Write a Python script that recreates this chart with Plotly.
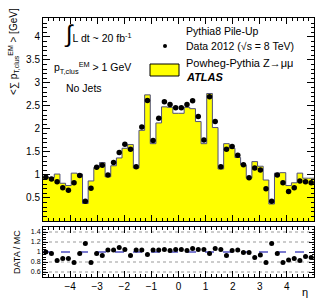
import numpy as np
import plotly.graph_objects as go

# ---- data (48 uniform bins in eta over [-5, 5]) ----
eta_min, eta_max, n_bins = -5.0, 5.0, 48
mc_values = [0.95, 0.94, 1.02, 0.82, 0.77, 1.04, 1.02, 0.38, 0.87, 1.16, 1.27, 0.96,
             1.20, 1.37, 1.58, 1.66, 1.15, 1.97, 2.74, 1.68, 2.13, 2.48, 2.47, 2.34,
             2.34, 2.47, 2.44, 2.16, 1.68, 2.77, 2.03, 1.13, 1.68, 1.58, 1.38, 1.22,
             0.93, 1.29, 1.19, 0.89, 0.37, 1.04, 1.05, 0.77, 0.83, 1.04, 0.93, 0.93]
data_values = [0.95, 0.91, 0.85, 0.72, 0.67, 0.83, 0.99, 0.43, 0.71, 1.17, 1.21, 1.00,
               1.27, 1.49, 1.67, 1.56, 1.18, 2.04, 2.62, 1.75, 2.23, 2.59, 2.53, 2.46,
               2.46, 2.53, 2.61, 2.27, 1.76, 2.70, 2.16, 1.18, 1.56, 1.62, 1.43, 1.22,
               0.94, 1.15, 1.11, 0.70, 0.43, 1.00, 0.83, 0.64, 0.72, 0.87, 0.85, 0.83]
ratio_values = [1.00, 0.97, 0.83, 0.87, 0.87, 0.79, 0.97, 1.17, 0.79, 0.97, 0.93, 1.04,
                1.04, 1.09, 1.05, 0.93, 1.04, 1.04, 0.95, 1.04, 1.04, 1.05, 1.03, 1.05,
                1.05, 1.03, 1.07, 1.05, 1.05, 0.97, 1.07, 1.05, 0.93, 1.03, 1.04, 0.99,
                0.99, 0.89, 0.94, 0.79, 1.17, 0.97, 0.79, 0.84, 0.87, 0.83, 0.91, 0.89]
ratio_ticks = [0.6, 0.8, 1.0, 1.2, 1.4]
main_ticks = [0.5, 1, 1.5, 2, 2.5, 3, 3.5, 4]
eta_ticks = [-4, -3, -2, -1, 0, 1, 2, 3, 4]

edges = np.linspace(eta_min, eta_max, n_bins + 1)
centers = 0.5 * (edges[:-1] + edges[1:])

FONT = "Liberation Sans, Arial, sans-serif"

fig = go.Figure()

# MC histogram (yellow, step outline)
fig.add_trace(go.Scatter(
    x=list(edges), y=list(mc_values) + [mc_values[-1]],
    mode="lines", line=dict(shape="hv", color="#505078", width=1),
    fill="tozeroy", fillcolor="#ffff00", xaxis="x", yaxis="y",
    hoverinfo="skip", showlegend=False))

# Data points
fig.add_trace(go.Scatter(
    x=centers, y=data_values, mode="markers",
    marker=dict(color="black", size=5.5, symbol="circle"),
    xaxis="x", yaxis="y", showlegend=False))

# Ratio points
fig.add_trace(go.Scatter(
    x=centers, y=ratio_values, mode="markers",
    marker=dict(color="black", size=5, symbol="circle"),
    xaxis="x2", yaxis="y2", showlegend=False))

shapes = []
for t in ratio_ticks:
    if t == 1.0:
        shapes.append(dict(type="line", xref="x2 domain", yref="y2", x0=0, x1=1, y0=t, y1=t,
                           line=dict(color="#5050c0", width=1.5, dash="dash"), layer="below"))
    else:
        shapes.append(dict(type="line", xref="x2 domain", yref="y2", x0=0, x1=1, y0=t, y1=t,
                           line=dict(color="#999999", width=1, dash="dot"), layer="below"))

def px(xp):
    return (xp - 43) / 271

def py(yp):
    return 1 - (yp - 18) / 259

# legend symbols (paper coords)
shapes.append(dict(type="rect", xref="paper", yref="paper",
                   x0=px(150), x1=px(179), y0=py(76), y1=py(64),
                   fillcolor="#ffff00", line=dict(color="black", width=1)))
shapes.append(dict(type="circle", xref="paper", yref="paper",
                   x0=px(163), x1=px(167), y0=py(48), y1=py(44),
                   fillcolor="black", line=dict(color="black", width=0)))

ann = []
def txt(s, x, y, size=10.5, xanchor="left", yanchor="middle", angle=0):
    ann.append(dict(text=s, xref="paper", yref="paper", x=px(x), y=py(y),
                    xanchor=xanchor, yanchor=yanchor, showarrow=False, textangle=angle,
                    font=dict(family=FONT, size=size, color="black")))

txt("Pythia8 Pile-Up", 184, 31)
txt("Data 2012 (√s = 8 TeV)", 184, 46)
txt("Powheg-Pythia Z→μμ", 184, 63, size=11)
txt("<b><i>ATLAS</i></b>", 184, 77, size=11)
txt("<span style='font-size:24px'>∫</span>L dt ~ 20 fb<sup>-1</sup>", 62, 34)
txt("p<sub>T,clus</sub><sup>EM</sup> > 1 GeV", 52, 68)
txt("No Jets", 64, 88)
txt("&lt;∑ p<sub>T,clus</sub><sup>EM</sup> &gt; [GeV]", 5, 6, size=10,
    xanchor="left", yanchor="top", angle=-90)
txt("DATA / MC", 10, 252, size=9, xanchor="left", yanchor="middle", angle=-90)
txt("η", 305, 292, size=11, xanchor="center")

axis_common = dict(ticks="inside", mirror="allticks", showline=True, linecolor="black",
                   linewidth=1, showgrid=False, zeroline=False, tickcolor="black",
                   tickfont=dict(family=FONT, size=10, color="black"))

fig.update_layout(
    width=329, height=305,
    margin=dict(l=43, r=15, t=18, b=28),
    paper_bgcolor="white", plot_bgcolor="white",
    showlegend=False,
    xaxis=dict(domain=[0, 1], range=[eta_min, eta_max], anchor="y", showticklabels=False,
               tickvals=eta_ticks, ticklen=6,
               minor=dict(dtick=0.2, ticks="inside", ticklen=3, tickcolor="black"),
               **axis_common),
    yaxis=dict(domain=[(277 - 221) / 259, 1], range=[0, 4.41], anchor="x",
               tickvals=main_ticks, ticklen=7,
               minor=dict(dtick=0.1, ticks="inside", ticklen=3.5, tickcolor="black"),
               **axis_common),
    xaxis2=dict(domain=[0, 1], range=[eta_min, eta_max], anchor="y2",
                tickvals=eta_ticks, ticklen=6,
                minor=dict(dtick=0.2, ticks="inside", ticklen=3, tickcolor="black"),
                **axis_common),
    yaxis2=dict(domain=[0, (277 - 227) / 259], range=[0.5, 1.5], anchor="x2",
                tickvals=ratio_ticks, ticklen=5,
                minor=dict(dtick=0.05, ticks="inside", ticklen=2.5, tickcolor="black"),
                **{**axis_common, "tickfont": dict(family=FONT, size=7, color="black")}),
    shapes=shapes,
    annotations=ann,
)

fig.write_html("out.html", config={"displayModeBar": False},
               post_script="document.body.style.margin='0';document.body.style.padding='0';")
